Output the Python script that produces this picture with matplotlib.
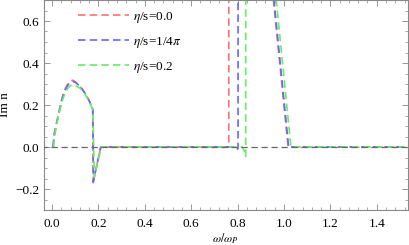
import matplotlib
matplotlib.use("Agg")
import matplotlib.pyplot as plt
from matplotlib.ticker import MultipleLocator

plt.rcParams["font.family"] = ["Liberation Serif", "DejaVu Serif"]
plt.rcParams["mathtext.fontset"] = "stix"

# Im n for three viscosities
red_x = [0.003, 0.01, 0.02, 0.03, 0.04, 0.05, 0.06, 0.07, 0.08, 0.09, 0.10,
         0.12, 0.14, 0.16, 0.175, 0.177, 0.19, 0.21, 0.762, 0.763,
         0.95, 0.97, 0.99, 1.018, 1.52]
red_y = [0.0, 0.07, 0.12, 0.17, 0.22, 0.26, 0.285, 0.305, 0.315, 0.318, 0.31,
         0.29, 0.26, 0.22, 0.18, -0.17, -0.10, 0.0, 0.0, 5.0,
         0.75, 0.53, 0.31, 0.0, 0.0]

blue_x = [0.004, 0.01, 0.02, 0.03, 0.04, 0.05, 0.06, 0.07, 0.08, 0.09, 0.10,
          0.12, 0.14, 0.16, 0.176, 0.178, 0.19, 0.21, 0.79, 0.80, 0.802, 0.803,
          0.952, 0.972, 0.992, 1.02, 1.52]
blue_y = [0.0, 0.06, 0.115, 0.165, 0.215, 0.255, 0.28, 0.298, 0.308, 0.312, 0.308,
          0.29, 0.26, 0.22, 0.18, -0.165, -0.10, 0.0, 0.0, -0.01, -0.005, 5.0,
          0.75, 0.53, 0.31, 0.0, 0.0]

green_x = [0.006, 0.012, 0.02, 0.03, 0.04, 0.05, 0.06, 0.07, 0.08, 0.09, 0.10,
           0.12, 0.14, 0.16, 0.176, 0.182, 0.195, 0.213, 0.82, 0.834, 0.835,
           0.836, 0.962, 0.982, 1.002, 1.03, 1.52]
green_y = [0.0, 0.06, 0.11, 0.16, 0.205, 0.24, 0.265, 0.283, 0.293, 0.296, 0.293,
           0.28, 0.255, 0.215, 0.175, -0.145, -0.08, 0.0, 0.0, -0.03, -0.045,
           5.0, 0.75, 0.53, 0.31, 0.0, 0.0]

labels = [r"$\eta$/s=0.0", r"$\eta$/s=1/4$\pi$", r"$\eta$/s=0.2"]
colors = ["#ff7070", "#6666ff", "#66ee66"]

fig = plt.figure(figsize=(4.09, 2.45), dpi=100)
ax = fig.add_axes([44 / 409, 1 - 210 / 245, 364 / 409, 210 / 245])

for xs, ys, c, lab in zip([red_x, blue_x, green_x], [red_y, blue_y, green_y],
                          colors, labels):
    ax.plot(xs, ys, color=c, lw=1.2, ls=(0, (4.5, 2.5)), label=lab, zorder=2)
ax.plot([-0.05, 1.6], [0, 0], color="#666666", lw=0.9, ls=(0, (5, 3)), zorder=3)

ax.set_xlim(-0.035, 1.535)
ax.set_ylim(-0.3, 0.7)
ax.xaxis.set_major_locator(MultipleLocator(0.2))
ax.xaxis.set_minor_locator(MultipleLocator(0.04))
ax.yaxis.set_major_locator(MultipleLocator(0.2))
ax.yaxis.set_minor_locator(MultipleLocator(0.05))
ax.tick_params(which="both", direction="in", top=True, right=True,
               color="#888888", labelsize=9.5)
ax.tick_params(which="major", length=4, width=0.6)
ax.tick_params(which="minor", length=2, width=0.5)
ax.tick_params(axis="x", which="major", pad=6)
ax.xaxis.set_major_formatter(plt.FuncFormatter(lambda v, p: f"{v:.1f}"))
ax.yaxis.set_major_formatter(
    plt.FuncFormatter(lambda v, p: f"{v:.1f}".replace("-", "\u2212")))
for s in ax.spines.values():
    s.set_color("#888888")
    s.set_linewidth(0.8)

ax.set_xlabel(r"$\omega/\omega_P$", fontsize=8.5, va="center")
ax.xaxis.set_label_coords(0.497, -0.136)
ax.set_ylabel("Im n", fontsize=9.5, labelpad=3)

ax.legend(loc="upper left", bbox_to_anchor=(0.06, 1.01), frameon=False,
          fontsize=9.5, handlelength=3.9, handletextpad=0.3, labelspacing=0.75)

fig.savefig("out.png", dpi=100)
